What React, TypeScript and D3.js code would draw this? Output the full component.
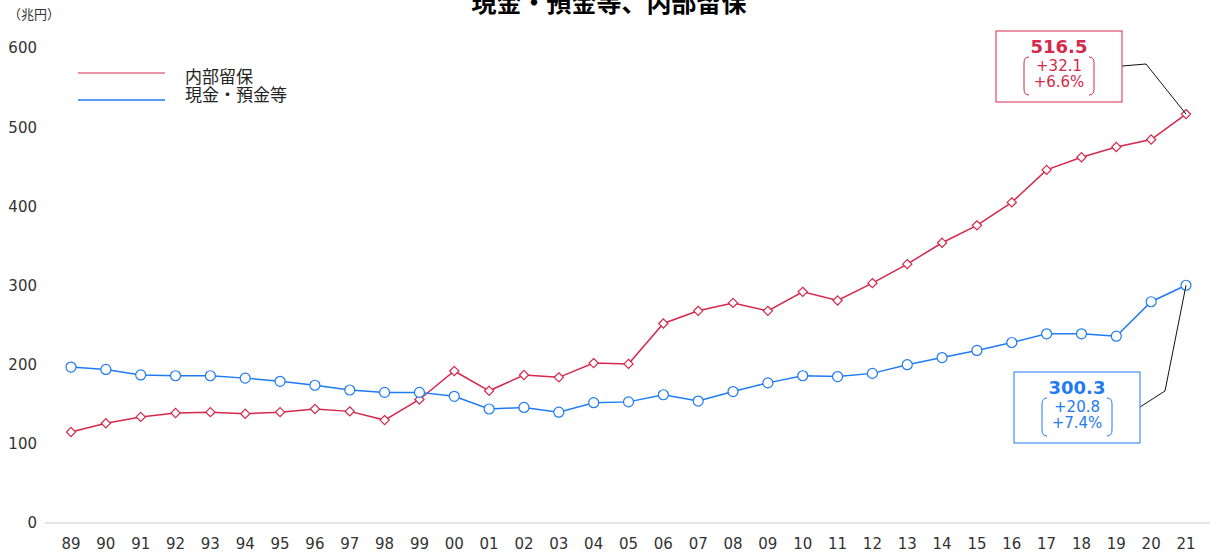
import * as React from 'react';
import * as d3 from 'd3';

const years = ['89', '90', '91', '92', '93', '94', '95', '96', '97', '98', '99', '00', '01', '02', '03', '04', '05',
  '06', '07', '08', '09', '10', '11', '12', '13', '14', '15', '16', '17', '18', '19', '20', '21'];
const retained = [115, 126, 134, 139, 140, 138, 140, 144, 141, 130, 156, 192, 167, 187, 184, 202, 201,
  252, 268, 278, 268, 292, 281, 303, 327, 354, 376, 405, 446, 462, 475, 484.4, 516.5];
const cash = [197, 194, 187, 186, 186, 183, 179, 174, 168, 165, 165, 160, 144, 146, 140, 152, 153,
  162, 154, 166, 177, 186, 185, 189, 200, 209, 218, 228, 239, 239, 236, 279.5, 300.3];
const yTicks = [0, 100, 200, 300, 400, 500, 600];
const seriesNames = ['内部留保', '現金・預金等'];
const notes = [
  { value: '516.5', diff: '+32.1', pct: '+6.6%' },
  { value: '300.3', diff: '+20.8', pct: '+7.4%' },
];

const W = 1218;
const H = 553;
const RED = '#d5284a';
const BLUE = '#1f7bf2';
const FONT = "Verdana, 'DejaVu Sans', 'Noto Sans CJK JP', sans-serif";

export default function App() {
  const x = d3.scalePoint<string>().domain(years).range([71, 1186]);
  const y = d3.scaleLinear().domain([0, 600]).range([523, 48]);
  const line = d3.line<number>().x((_, i) => x(years[i])!).y(d => y(d));

  // rounded brackets around the change figures
  const bracket = (cx: number, top: number, h: number, w: number) => {
    const l = cx - w / 2, r = cx + w / 2;
    return `M${l + 5},${top} Q${l},${top} ${l},${top + 6} L${l},${top + h - 6} Q${l},${top + h} ${l + 5},${top + h}` +
      ` M${r - 5},${top} Q${r},${top} ${r},${top + 6} L${r},${top + h - 6} Q${r},${top + h} ${r - 5},${top + h}`;
  };

  const lastX = x(years[years.length - 1])!;
  const boxes = [
    { note: notes[0], color: RED, bx: 996, by: 31, bend: [1146, 64], end: [lastX, y(retained[retained.length - 1])] },
    { note: notes[1], color: BLUE, bx: 1014, by: 372, bend: [1165, 391], end: [lastX, y(cash[cash.length - 1])] },
  ];
  const bw = 126, bh = 71;

  return (
    <svg width={W} height={H} style={{ position: 'absolute', left: 0, top: 0 }} fontFamily={FONT}>
      <rect width={W} height={H} fill="#fff" />
      <text x={609} y={12} textAnchor="middle" fontSize={25} fontWeight="bold" fill="#000">現金・預金等、内部留保</text>
      <text x={8} y={19} fontSize={13} fill="#333">（兆円）</text>

      {yTicks.map(t => (
        <text key={t} x={37} y={y(t)} dy="0.36em" textAnchor="end" fontSize={15} fill="#333">{t}</text>
      ))}
      <line x1={45} x2={1210} y1={y(0)} y2={y(0)} stroke="#e3e3e3" strokeWidth={2} />
      {years.map(yr => (
        <text key={yr} x={x(yr)} y={549} textAnchor="middle" fontSize={15} fill="#333">{yr}</text>
      ))}

      {/* legend */}
      <line x1={78} x2={165} y1={73} y2={73} stroke={RED} strokeWidth={1} />
      <text x={185} y={83} fontSize={17} fill="#222">{seriesNames[0]}</text>
      <line x1={78} x2={165} y1={100} y2={100} stroke={BLUE} strokeWidth={1.3} />
      <text x={185} y={101} fontSize={17} fill="#222">{seriesNames[1]}</text>

      <path d={line(retained)!} fill="none" stroke={RED} strokeWidth={1.5} />
      <path d={line(cash)!} fill="none" stroke={BLUE} strokeWidth={1.5} />

      {retained.map((v, i) => (
        <path key={'r' + i} transform={`translate(${x(years[i])},${y(v)})`} d="M0,-4.6L4.6,0L0,4.6L-4.6,0Z"
          fill="#fff" stroke={RED} strokeWidth={1.2} />
      ))}
      {cash.map((v, i) => (
        <circle key={'c' + i} cx={x(years[i])} cy={y(v)} r={5} fill="#fff" stroke={BLUE} strokeWidth={1.2} />
      ))}

      {boxes.map((b, k) => {
        const cx = b.bx + bw / 2;
        return (
          <g key={k}>
            <polyline points={`${b.bx + bw},${b.by + 35} ${b.bend[0]},${b.bend[1]} ${b.end[0]},${b.end[1]}`}
              fill="none" stroke="#111" strokeWidth={1} />
            <rect x={b.bx} y={b.by} width={bw} height={bh} fill="#fff" stroke={b.color} strokeWidth={1} />
            <text x={cx} y={b.by + 22} textAnchor="middle" fontSize={18} fontWeight="bold" fill={b.color}>{b.note.value}</text>
            <text x={cx} y={b.by + 40} textAnchor="middle" fontSize={15} fill={b.color}>{b.note.diff}</text>
            <text x={cx} y={b.by + 56} textAnchor="middle" fontSize={15} fill={b.color}>{b.note.pct}</text>
            <path d={bracket(cx, b.by + 26, 38, 70)} fill="none" stroke={b.color} strokeWidth={1} />
          </g>
        );
      })}
    </svg>
  );
}
